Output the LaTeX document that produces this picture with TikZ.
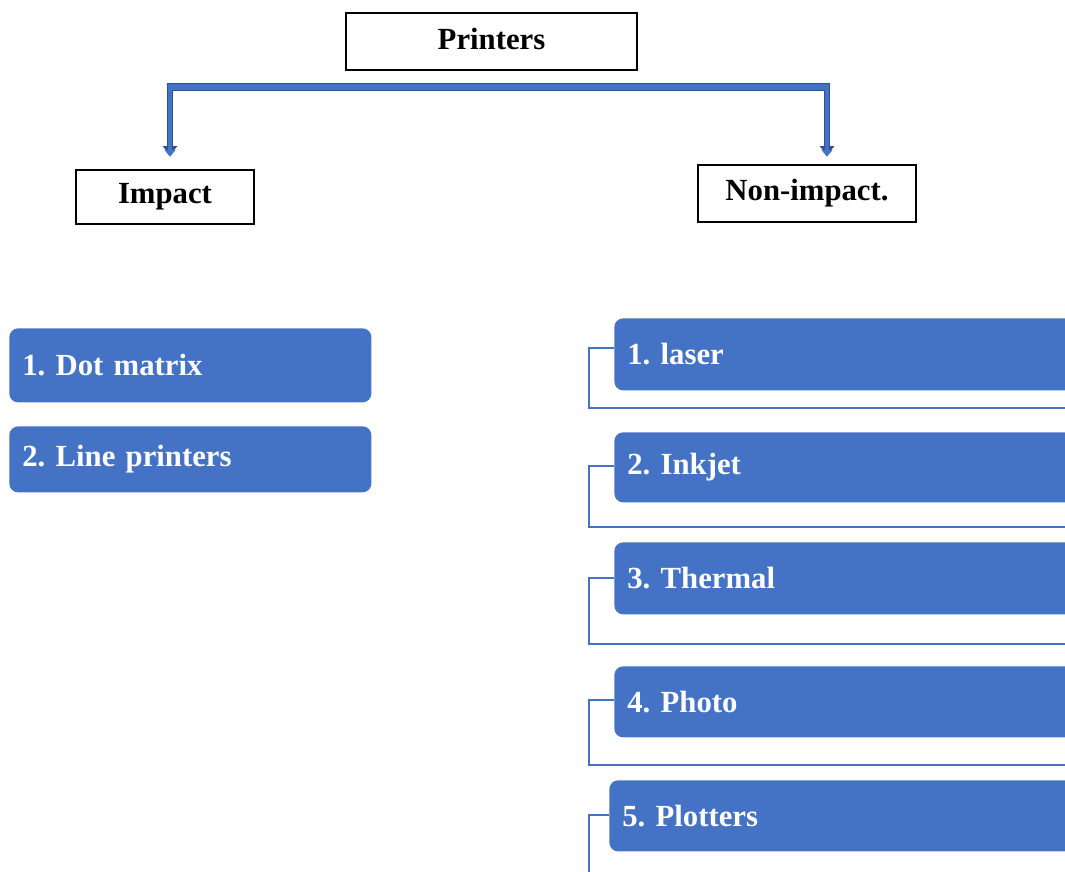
\documentclass[tikz,border=0pt]{standalone}
\usepackage{fontspec}
\setmainfont{Liberation Serif}
\usetikzlibrary{arrows.meta}
\definecolor{boxblue}{HTML}{4472C4}
\definecolor{edgeblue}{HTML}{2F528F}
\tikzset{
  x=0.02cm, y=-0.02cm,
  topbox/.style={draw=black, line width=0.9pt, fill=white, minimum height=#1*0.02cm, inner sep=0pt,
    font=\fontsize{17.5}{20}\selectfont\bfseries\frenchspacing, text=black},
  itembox/.style={fill=boxblue, draw=none, rounded corners=5pt, anchor=north west, inner xsep=13*0.02cm,
    text width=#1*0.02cm-26*0.02cm, align=left, font=\fontsize{17.5}{20}\selectfont\bfseries\frenchspacing, text=white},
  bracket/.style={draw=boxblue, line width=0.9pt},
  barline/.style={draw=edgeblue, line width=5pt, line cap=butt},
  barfill/.style={draw=boxblue, line width=3.6pt, line cap=butt},
  stemline/.style={draw=edgeblue, line width=3.6pt, -{Triangle[width=8pt,length=5pt]}},
  stemfill/.style={draw=boxblue, line width=2.4pt, -{Triangle[width=6pt,length=3.8pt]}},
}
\begin{document}
\begin{tikzpicture}
\clip (0,0) rectangle (1065,872);
\fill[white] (0,0) rectangle (1065,872);

% top boxes
\node[topbox=57, minimum width=291*0.02cm] (prn) at (491.5,41.5) {\raisebox{3pt}{Printers}};
\node[topbox=54, minimum width=178*0.02cm] (imp) at (165,197) {Impact};
\node[topbox=57, minimum width=218*0.02cm] (non) at (807,193.5) {\raisebox{3pt}{Non-impact.}};

% connector from Printers
\coordinate (bl) at (170,87);
\coordinate (br) at (827,87);
\coordinate (tl) at (170,155);
\coordinate (tr) at (827,155);
\draw[stemline] (bl) -- (tl);
\draw[stemline] (br) -- (tr);
\draw[barline] ([xshift=-3*0.02cm]bl) -- ([xshift=3*0.02cm]br);
\draw[stemfill] (bl) -- ([yshift=-1pt]tl);
\draw[stemfill] (br) -- ([yshift=-1pt]tr);
\draw[barfill] ([xshift=-2*0.02cm]bl) -- ([xshift=2*0.02cm]br);

% impact items
\node[itembox=362, minimum height=74*0.02cm] (dot) at (9,328) {1. Dot matrix};
\node[itembox=362, minimum height=66*0.02cm] (lin) at (9,426) {2. Line printers};

% non-impact items
\node[itembox=480, minimum height=72*0.02cm] (las) at (614,318) {1. laser};
\node[itembox=480, minimum height=70*0.02cm] (ink) at (614,432) {2. Inkjet};
\node[itembox=480, minimum height=72*0.02cm] (the) at (614,542) {3. Thermal};
\node[itembox=480, minimum height=71*0.02cm] (pho) at (614,666) {4. Photo};
\node[itembox=485, minimum height=71*0.02cm] (plo) at (609,780) {5. Plotters};

% brackets
\coordinate (t1) at (589,348); \coordinate (c1) at (589,408);
\coordinate (t2) at (589,466); \coordinate (c2) at (589,527);
\coordinate (t3) at (589,578); \coordinate (c3) at (589,644);
\coordinate (t4) at (589,700); \coordinate (c4) at (589,765);
\coordinate (t5) at (589,815); \coordinate (c5) at (589,880);
\draw[bracket] (las.west |- t1) -- (t1) -- (c1) -- (c1 -| las.east);
\draw[bracket] (ink.west |- t2) -- (t2) -- (c2) -- (c2 -| ink.east);
\draw[bracket] (the.west |- t3) -- (t3) -- (c3) -- (c3 -| the.east);
\draw[bracket] (pho.west |- t4) -- (t4) -- (c4) -- (c4 -| pho.east);
\draw[bracket] (plo.west |- t5) -- (t5) -- (c5);
\end{tikzpicture}
\end{document}
